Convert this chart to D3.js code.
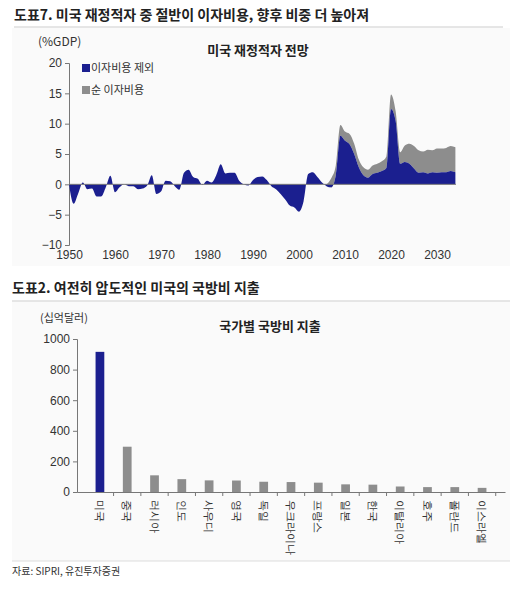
<!DOCTYPE html>
<html><head><meta charset="utf-8">
<script src="https://cdn.jsdelivr.net/npm/d3@7"></script>
<style>
body{margin:0;background:#fff;font-family:"Noto Sans CJK KR","Noto Sans",sans-serif;}
</style></head>
<body><svg id="c" width="517" height="592"></svg>
<script>
// 미국 재정적자 (%GDP)
const years = d3.range(1950, 2035)
const primary = [0,-3.2,-1.5,0.3,-0.8,-0.7,-2.0,-2.0,-0.5,1.4,
  -1.3,-0.5,0,-0.3,-0.3,-0.8,-0.7,-0.2,1.5,-1.6,
  -1.2,0.6,0.5,-0.3,-0.9,1.9,2.4,1.2,0.9,-0.1,
  0.6,0.3,1.5,3.3,1.8,1.9,1.9,0.6,0,-0.2,
  0.7,1.2,1.3,0.7,-0.3,-0.8,-1.6,-2.5,-3.5,-3.8,
  -4.5,-2.8,1.7,2.0,1.2,0.3,-0.3,-0.5,1.5,8.0,
  7.2,6.6,5.0,2.8,1.5,1.1,1.7,1.9,2.2,2.7,
  12.4,10.5,3.4,3.7,3.4,2.6,1.9,2.0,1.8,2.0,
  1.9,2.0,2.0,2.2,2.0]
// 순 이자비용, 2006년부터
const interestYears = d3.range(2006, 2035)
const interest = [0.3,1.5,1.6,1.8,1.5,1.7,1.7,1.3,1.3,1.3,1.4,1.5,1.6,1.9,
  2.4,1.6,1.9,2.7,3.3,3.7,3.7,3.4,3.9,3.6,4.0,3.9,4.0,4.1,4.1]
const lineTicks = [-10,-5,0,5,10,15,20]

// 국가별 국방비 지출 (십억달러)
const countries = ["미국","중국","러시아","인도","사우디","영국","독일","우크라이나","프랑스","일본","한국","이탈리아","호주","폴란드","이스라엘"]
const spending = [916,296,109,84,76,75,67,65,61,50,48,36,32,32,27]
const barTicks = [0,200,400,600,800,1000]

const navy = "#1b1f8f", gray = "#8d8d8d"
const svg = d3.select("#c")

// ---------- 상단 차트 ----------
svg.append("text").attr("x",14).attr("y",20).attr("font-size",14).attr("font-weight","bold")
  .attr("fill","#222").text("도표7. 미국 재정적자 중 절반이 이자비용, 향후 비중 더 높아져")
svg.append("line").attr("x1",14).attr("x2",503).attr("y1",27).attr("y2",27).attr("stroke","#ccc")
svg.append("rect").attr("x",12).attr("y",28).attr("width",498).attr("height",238).attr("fill","#fafafa")

const x1 = d3.scaleLinear().domain([1950,2030]).range([69,437])
const y1 = d3.scaleLinear().domain([-10,20]).range([245,63])

const g1 = svg.append("g")
g1.append("g").attr("transform","translate(69,0)")
  .call(d3.axisLeft(y1).tickValues(lineTicks).tickSize(4))
  .call(a=>{a.select(".domain").attr("stroke","#777");a.selectAll("line").attr("stroke","#777");
    a.selectAll("text").attr("font-size",12).attr("fill","#333").attr("font-family","Liberation Sans")})
g1.append("g").attr("transform","translate(0,245)")
  .call(d3.axisBottom(x1).tickValues(d3.range(1950,2031,10)).tickFormat(d3.format("d")).tickSize(0))
  .call(a=>{a.select(".domain").remove();
    a.selectAll("text").attr("font-size",12).attr("fill","#333").attr("dy","0.9em").attr("font-family","Liberation Sans")})

const iData = interestYears.map((yr,i)=>({yr, lo: primary[yr-1950], hi: primary[yr-1950]+interest[i]}))
g1.append("path").datum(iData).attr("fill",gray)
  .attr("d", d3.area().x(d=>x1(d.yr)).y0(d=>y1(d.lo)).y1(d=>y1(d.hi)).curve(d3.curveMonotoneX))
g1.append("path").datum(years).attr("fill",navy)
  .attr("d", d3.area().x(d=>x1(d)).y0(y1(0)).y1((d,i)=>y1(primary[i])).curve(d3.curveMonotoneX))
g1.append("line").attr("x1",69).attr("x2",456).attr("y1",y1(0)).attr("y2",y1(0)).attr("stroke","#777")

svg.append("text").attr("x",38).attr("y",46).attr("font-size",12).attr("fill","#333").text("(%GDP)")
svg.append("text").attr("x",258).attr("y",55).attr("font-size",13).attr("font-weight","bold")
  .attr("text-anchor","middle").attr("fill","#222").text("미국 재정적자 전망")
const leg = [["이자비용 제외",navy],["순 이자비용",gray]]
leg.forEach((l,i)=>{
  svg.append("rect").attr("x",82).attr("y",64+i*22).attr("width",8).attr("height",8).attr("fill",l[1])
  svg.append("text").attr("x",91).attr("y",72+i*22).attr("font-size",11).attr("fill","#333").text(l[0])
})

// ---------- 하단 차트 ----------
svg.append("text").attr("x",12).attr("y",293).attr("font-size",14).attr("font-weight","bold")
  .attr("fill","#222").text("도표2. 여전히 압도적인 미국의 국방비 지출")
svg.append("line").attr("x1",12).attr("x2",510).attr("y1",301).attr("y2",301).attr("stroke","#ccc")
svg.append("rect").attr("x",12).attr("y",302).attr("width",498).attr("height",259).attr("fill","#fafafa")
svg.append("line").attr("x1",12).attr("x2",510).attr("y1",561).attr("y2",561).attr("stroke","#ddd")

const x2 = d3.scaleBand().domain(countries).range([77,505]).padding(0.68)
const y2 = d3.scaleLinear().domain([0,1000]).range([492,339])

const g2 = svg.append("g")
g2.append("g").attr("transform","translate(77,0)")
  .call(d3.axisLeft(y2).tickValues(barTicks).tickFormat(d3.format("d")).tickSize(4))
  .call(a=>{a.select(".domain").attr("stroke","#777");a.selectAll("line").attr("stroke","#777");
    a.selectAll("text").attr("font-size",12).attr("fill","#333").attr("font-family","Liberation Sans")})
g2.selectAll("rect.bar").data(countries).join("rect").attr("class","bar")
  .attr("x",d=>x2(d)).attr("width",x2.bandwidth())
  .attr("y",(d,i)=>y2(spending[i])).attr("height",(d,i)=>y2(0)-y2(spending[i]))
  .attr("fill",(d,i)=>i==0?navy:gray)
const xa = g2.append("g").attr("transform","translate(0,492)")
  .call(d3.axisBottom(x2).tickSize(4).tickSizeOuter(0))
xa.select(".domain").attr("stroke","#777")
xa.selectAll("line").attr("stroke","#777").attr("transform",`translate(${x2.step()/2},0)`)
xa.selectAll("text").attr("font-size",11).attr("fill","#333")
  .attr("transform","rotate(90)").attr("text-anchor","start").attr("x",8).attr("y",0).attr("dy","0.35em")

svg.append("text").attr("x",40).attr("y",322).attr("font-size",11).attr("fill","#333").text("(십억달러)")
svg.append("text").attr("x",270).attr("y",331).attr("font-size",13).attr("font-weight","bold")
  .attr("text-anchor","middle").attr("fill","#222").text("국가별 국방비 지출")
svg.append("text").attr("x",12).attr("y",575).attr("font-size",10).attr("fill","#333").text("자료: SIPRI, 유진투자증권")
</script></body></html>
